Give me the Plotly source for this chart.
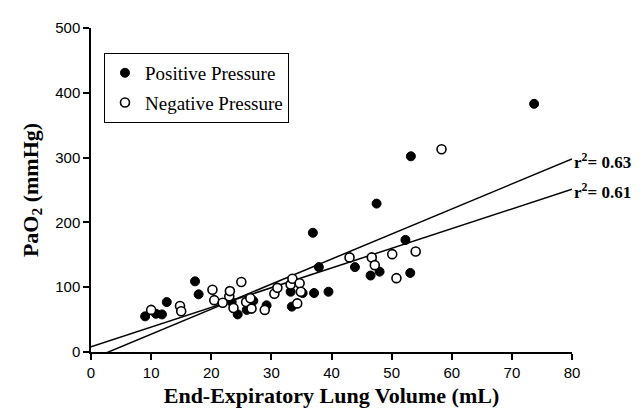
import plotly.graph_objects as go

# Positive pressure (filled circles)
pos_x = [9.0, 10.8, 11.8, 12.6, 17.3, 17.9, 23.4, 24.4, 25.9, 27.0, 29.2, 33.2, 33.4,
         35.2, 37.1, 36.9, 37.9, 39.5, 43.9, 46.5, 47.5, 48.0, 52.3, 53.1, 53.2, 73.7]
pos_y = [55, 59, 58, 77, 109, 89, 77, 58, 65, 79, 72, 93, 70,
         91, 91, 184, 131, 93, 131, 118, 229, 124, 173, 122, 302, 383]

# Negative pressure (open circles)
neg_x = [10.0, 14.8, 15.0, 20.2, 20.5, 21.9, 23.0, 23.1, 23.7, 25.0, 25.8, 26.5, 26.7, 28.9,
         30.5, 31.0, 33.2, 33.5, 34.3, 34.7, 34.9, 43.0, 46.7, 47.2, 50.1, 50.8, 54.0, 58.3]
neg_y = [65, 71, 63, 96, 80, 76, 86, 94, 68, 108, 77, 83, 67, 65,
         90, 99, 104, 113, 75, 106, 93, 146, 146, 134, 151, 114, 155, 313]

# Regression lines (slope, intercept) and labels
fit_names = ["r<sup>2</sup>= 0.63", "r<sup>2</sup>= 0.61"]
fit_slopes = [3.865, 3.04]
fit_intercepts = [-11.2, 8.0]
fit_x = [0, 80]

x_ticks = [0, 10, 20, 30, 40, 50, 60, 70, 80]
y_ticks = [0, 100, 200, 300, 400, 500]

serif = "Liberation Serif, Times New Roman, serif"
sans = "Liberation Sans, Arial, sans-serif"

fig = go.Figure()

for s, b in zip(fit_slopes, fit_intercepts):
    fig.add_trace(go.Scatter(
        x=fit_x, y=[s * xv + b for xv in fit_x], mode="lines",
        line=dict(color="black", width=1.5), showlegend=False, hoverinfo="skip"))

fig.add_trace(go.Scatter(
    x=pos_x, y=pos_y, mode="markers", name="Positive Pressure", legendgroup="a",
    marker=dict(symbol="circle", size=9, color="black", line=dict(color="black", width=1))))
fig.add_trace(go.Scatter(
    x=neg_x, y=neg_y, mode="markers", name="Negative Pressure", legendgroup="b",
    marker=dict(symbol="circle", size=9, color="white", line=dict(color="black", width=1.6))))

for name, s, b in zip(fit_names, fit_slopes, fit_intercepts):
    fig.add_annotation(x=80, y=s * 80 + b - 3, xref="x", yref="y", text="<b>" + name + "</b>",
                       showarrow=False, xanchor="left", yanchor="middle", xshift=0,
                       font=dict(family=serif, size=17, color="black"))

axis_common = dict(showline=True, linecolor="black", linewidth=1.5, ticks="outside",
                   ticklen=6, tickwidth=1.5, tickcolor="black", showgrid=False,
                   zeroline=False, tickfont=dict(family=sans, size=15, color="black"))

fig.update_xaxes(range=[0, 80], tickvals=x_ticks,
                 title=dict(text="<b>End-Expiratory Lung Volume (mL)</b>", standoff=8,
                            font=dict(family=serif, size=22, color="black")),
                 **axis_common)
fig.update_yaxes(range=[0, 500], tickvals=y_ticks,
                 title=dict(text="<b>PaO<sub>2</sub> (mmHg)</b>", standoff=11,
                            font=dict(family=serif, size=22, color="black")),
                 **axis_common)

# page body has an 8px margin, so the figure is sized to fit the window
fig.update_layout(
    width=633, height=407,
    margin=dict(l=83, r=69, t=11, b=60),
    plot_bgcolor="white", paper_bgcolor="white",
    showlegend=True,
    legend=dict(x=0.027, y=0.923, xanchor="left", yanchor="top",
                bordercolor="black", borderwidth=1, bgcolor="white",
                font=dict(family=serif, size=19, color="black"),
                traceorder="grouped", tracegroupgap=2),
)

fig.write_html("out.html")
